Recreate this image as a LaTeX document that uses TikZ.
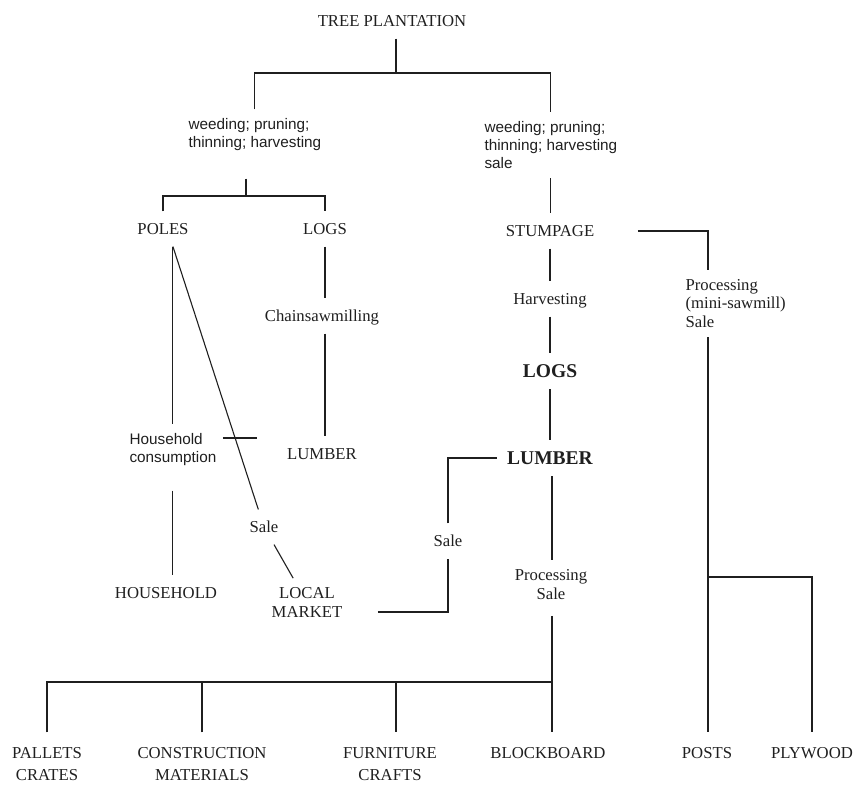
\documentclass[tikz,border=0pt]{standalone}
\usepackage{fontspec}
\setmainfont{Liberation Serif}
\setsansfont{Liberation Sans}
\usepackage{xcolor}
\usepackage{tikz}
\usetikzlibrary{calc}
\definecolor{ink}{gray}{0.12}

\begin{document}
\begin{tikzpicture}[x=1pt, y=-1pt, line width=1.1pt, color=ink,
        lbl/.style={font=\fontsize{16.7}{18.5}\selectfont, text height=11pt, text depth=0pt, inner xsep=6pt, inner ysep=11.5pt},
        mlbl/.style={font=\fontsize{16.7}{18.5}\selectfont, align=center, inner xsep=6pt, inner ysep=9pt},
        slbl/.style={font=\sffamily\fontsize{15.3}{18}\selectfont, align=left, anchor=west, inner xsep=6pt, inner ysep=9pt},
        blbl/.style={font=\bfseries\fontsize{19.5}{22}\selectfont, text height=13pt, text depth=0pt, inner xsep=10pt, inner ysep=11pt},
        prod/.style={mlbl, inner ysep=14.5pt}]
        \useasboundingbox (0,0) rectangle (853,784);

        \begin{scope}
            \node[lbl] (tree) at (392,21) {TREE PLANTATION};
            \node[slbl] (wl) at (182,135) {weeding; pruning;\\thinning; harvesting};
            \node[slbl] (wr) at (478,145) {weeding; pruning;\\thinning; harvesting\\sale};
            \coordinate (jT) at (396,73);
            \coordinate (jL) at (246,196);
        \end{scope}

        \begin{scope}
            \node[lbl] (poles) at (163,229) {POLES};
            \node[lbl] (logsA) at (325,229) {LOGS};
            \node[lbl] (chain) at (322,316) {Chainsawmilling};
            \node[lbl] (lumberA) at (322,454) {LUMBER};
            \node[slbl] (house) at (123,450) {Household\\consumption};
            \node[lbl] (saleA) at (264,527) {Sale};
            \node[lbl] (household) at (166,593) {HOUSEHOLD};
            \node[mlbl] (market) at (307,602.5) {LOCAL\\MARKET};
            \coordinate (tick) at (257,438);
        \end{scope}

        \begin{scope}
            \node[lbl] (stump) at (550,231) {STUMPAGE};
            \node[lbl] (harv) at (550,299) {Harvesting};
            \node[blbl] (logsB) at (550,371) {LOGS};
            \node[blbl] (lumberB) at (550,458) {LUMBER};
            \node[lbl] (saleB) at (448,541) {Sale};
            \node[mlbl] (proc) at (551,584.5) {Processing\\Sale};
            \node[mlbl, align=left, anchor=west] (mini) at (679,303.5) {Processing\\(mini-sawmill)\\Sale};
            \coordinate (mx) at (708,230);
            \coordinate (jP) at (708,577);
            \coordinate (jB) at (552,682);
            \coordinate (jF) at (396,682);
        \end{scope}

        \begin{scope}
            \node[prod] (pallets) at (47,764) {PALLETS\\[3.5pt]CRATES};
            \node[prod] (construction) at (202,764) {CONSTRUCTION\\[3.5pt]MATERIALS};
            \node[prod] (furniture) at (390,764) {FURNITURE\\[3.5pt]CRAFTS};
            \node[prod] (blockboard) at (548,753) {BLOCKBOARD};
            \node[prod] (posts) at (707,753) {POSTS};
            \node[prod] (plywood) at (812,753) {PLYWOOD};
        \end{scope}

        \draw (tree.south -| jT) -- (jT);
        \draw (wl.north) |- (jT) -| (wr.north);
        \draw[shorten <=18pt] (wl.south -| jL) -- (jL);
        \draw (poles.north) |- (jL) -| (logsA.north);

        \draw (poles.south -| house.north) -- (house.north);
        \draw[shorten <=15pt] (house.south) -- (house.south |- household.north);
        \draw (poles.south -| house.north) -- (saleA);
        \draw (saleA) -- (market);
        \draw (house.east |- tick) -- (tick);
        \draw (logsA) -- (logsA |- chain.north);
        \draw (chain.south -| logsA) -- (lumberA.north -| logsA);

        \draw (wr.south) -- (wr.south |- stump.north);
        \draw (stump) -- (harv);
        \draw (harv) -- (logsB);
        \draw (logsB) -- (lumberB);
        \draw (lumberB.south -| jB) -- (proc.north -| jB);
        \draw[shorten <=7pt] (proc.south -| jB) -- (blockboard.north -| jB);
        \draw (pallets.north) |- (jB);
        \draw (construction.north) -- (construction.north |- jB);
        \draw (jF) -- (jF |- furniture.north);

        \draw[shorten <=37pt] (stump.east) -| (mini.north -| mx);
        \draw (mini.south -| mx) -- (posts.north -| mx);
        \draw (jP) -| (plywood.north);
        \draw (saleB) |- (lumberB);
        \draw[shorten <=29pt] ([yshift=-9.5pt]market.east) -| (saleB);
    \end{tikzpicture}
\end{document}
